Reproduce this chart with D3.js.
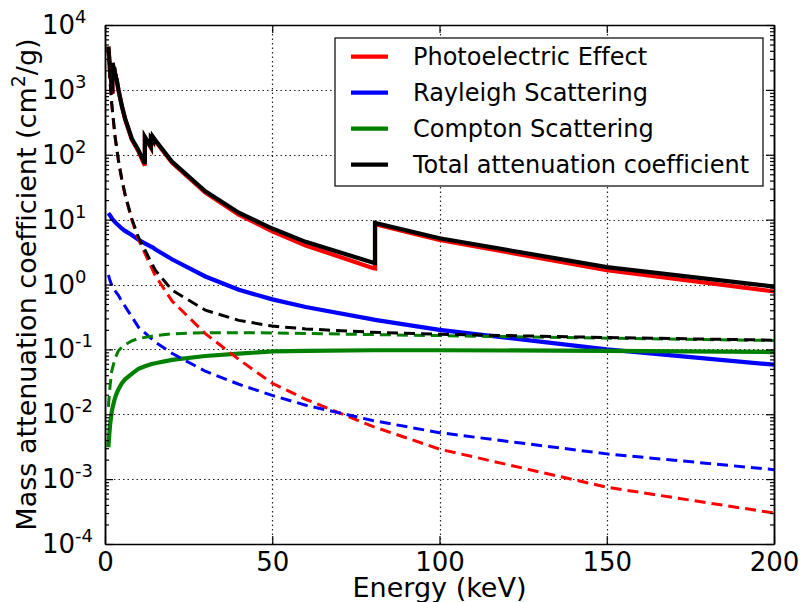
<!DOCTYPE html>
<html>
<head>
<meta charset="utf-8">
<script src="https://cdn.jsdelivr.net/npm/d3@7"></script>
<style>
body { margin: 0; background: #fff; }
text { font-family: "DejaVu Sans", sans-serif; font-variant-ligatures: none; fill: #000; }
</style>
</head>
<body>
<svg id="chart" width="802" height="602"></svg>
<script>
// gold (solid lines), edges repeated as below/above pairs
const energyAu = [1, 1.5, 2, 2.2057, 2.2057, 2.2911, 2.2911, 2.743, 2.743, 3, 3.1478, 3.1478, 3.4249, 3.4249,
    4, 5, 6, 8, 10, 11.9187, 11.9187, 13.7336, 13.7336, 14.3528, 14.3528, 15, 20, 30, 40, 50, 60, 80,
    80.7249, 80.7249, 100, 150, 200];
const photoAu = [4640, 2078, 1127, 870, 1890, 1740, 2590, 1890, 2190, 1790, 1590, 1740, 1400, 1490,
    1010, 570, 355, 172, 113, 68, 184, 128, 176, 160, 184, 165, 76, 26, 11.9, 6.6, 4.0, 1.80,
    1.77, 8.52, 4.87, 1.66, 0.78];
const rayleighAu = [12.6, 11.6, 10.6, 10.2, 10.2, 10.1, 10.1, 9.5, 9.5, 9.2, 9.0, 9.0, 8.7, 8.7,
    8.2, 7.3, 6.7, 5.8, 4.9, 4.3, 4.3, 3.85, 3.85, 3.7, 3.7, 3.5, 2.45, 1.33, 0.83, 0.59, 0.45, 0.29,
    0.285, 0.285, 0.2, 0.1, 0.058];
const comptonAu = [0.0031, 0.0068, 0.0108, 0.0122, 0.0122, 0.0128, 0.0128, 0.016, 0.016, 0.0178, 0.0188, 0.0188, 0.0206, 0.0206,
    0.0242, 0.0298, 0.0345, 0.042, 0.05, 0.055, 0.055, 0.059, 0.059, 0.060, 0.060, 0.061, 0.069, 0.079, 0.086, 0.093, 0.095, 0.097,
    0.097, 0.097, 0.097, 0.095, 0.091];
const totalAu = [4652.6, 2089.6, 1137.6, 880.2, 1900.2, 1750.1, 2600.1, 1899.5, 2199.5, 1799.2, 1599, 1749, 1408.7, 1498.7,
    1018.2, 577.3, 361.7, 177.8, 117.95, 72.4, 188.4, 131.9, 179.9, 163.8, 187.8, 168.6, 78.5, 27.4, 12.8, 7.28, 4.54, 2.187,
    2.152, 8.90, 5.167, 1.855, 0.929];

// water (dashed lines)
const energyW = [1, 1.5, 2, 3, 4, 5, 6, 8, 10, 15, 20, 30, 40, 50, 60, 80, 100, 150, 200];
const photoW = [4076, 1375, 616, 192, 82, 41.9, 24.0, 9.9, 4.95, 1.38, 0.56, 0.175, 0.07, 0.03, 0.017, 0.0065, 0.0029, 0.00075, 0.0003];
const rayleighW = [1.4, 1.15, 0.98, 0.8, 0.68, 0.55, 0.46, 0.32, 0.22, 0.13, 0.087, 0.046, 0.029, 0.0195, 0.0138, 0.008, 0.0052, 0.00245, 0.0014];
const comptonW = [0.013, 0.027, 0.046, 0.073, 0.095, 0.108, 0.118, 0.135, 0.147, 0.163, 0.174, 0.181, 0.181, 0.179, 0.176, 0.169, 0.163, 0.149, 0.137];
const totalW = [4077.4, 1376.2, 617.0, 192.9, 82.78, 42.56, 24.58, 10.36, 5.32, 1.673, 0.821, 0.402, 0.28, 0.2285, 0.2068, 0.1835, 0.1711, 0.1522, 0.1387];

const legendLabels = ["Photoelectric Effect", "Rayleigh Scattering", "Compton Scattering", "Total attenuation coefficient"];
const colors = ["#ff0000", "#0000ff", "#008000", "#000000"];
const xTicks = [0, 50, 100, 150, 200];
const decades = [-4, -3, -2, -1, 0, 1, 2, 3, 4];

const pL = 105, pR = 774, pT = 25, pB = 544;

const x = d3.scaleLinear().domain([0, 200]).range([pL, pR]);
const y = d3.scaleLog().domain([1e-4, 1e4]).range([pB, pT]);

const svg = d3.select("#chart");

svg.append("defs").append("clipPath").attr("id", "plotclip")
    .append("rect").attr("x", pL).attr("y", pT).attr("width", pR - pL).attr("height", pB - pT);

// dotted grid
const grid = svg.append("g").attr("stroke", "#222").attr("stroke-width", 1.2).attr("stroke-dasharray", "1.5,3");
grid.selectAll("line.gx").data(xTicks.slice(1, -1)).enter().append("line")
    .attr("x1", d => Math.round(x(d)) + 0.5).attr("x2", d => Math.round(x(d)) + 0.5).attr("y1", pT).attr("y2", pB);
grid.selectAll("line.gy").data(decades.slice(1, -1)).enter().append("line")
    .attr("y1", d => Math.round(y(Math.pow(10, d))) + 0.5).attr("y2", d => Math.round(y(Math.pow(10, d))) + 0.5)
    .attr("x1", pL).attr("x2", pR);

// curves
const line = d3.line().x(d => x(d[0])).y(d => y(d[1]));
const plot = svg.append("g").attr("clip-path", "url(#plotclip)").attr("fill", "none");

const solidSets = [photoAu, rayleighAu, comptonAu, totalAu];
const dashedSets = [photoW, rayleighW, comptonW, totalW];

solidSets.forEach(function(vals, i) {
    plot.append("path")
        .attr("d", line(energyAu.map((e, j) => [e, vals[j]])))
        .attr("stroke", colors[i])
        .attr("stroke-width", 4.2)
        .attr("stroke-linejoin", "miter");
});
dashedSets.forEach(function(vals, i) {
    plot.append("path")
        .attr("d", line(energyW.map((e, j) => [e, vals[j]])))
        .attr("stroke", colors[i])
        .attr("stroke-width", 3)
        .attr("stroke-dasharray", "11,6");
});

// minor ticks for log axis
const minor = [];
decades.slice(0, -1).forEach(function(p) {
    for (let k = 2; k <= 9; k++) minor.push(k * Math.pow(10, p));
});
const majors = decades.map(p => Math.pow(10, p));

function axisStyle(g) {
    g.select(".domain").attr("stroke", "#000").attr("stroke-width", 1.5);
    g.selectAll(".tick line").attr("stroke", "#000").attr("stroke-width", 1.2);
}

svg.append("g").attr("transform", `translate(0,${pB})`)
    .call(d3.axisBottom(x).tickValues(xTicks).tickSize(-8).tickSizeOuter(0).tickPadding(9).tickFormat(d3.format("d")))
    .call(axisStyle)
    .call(g => g.selectAll(".tick text").attr("font-size", 26).attr("font-family", "DejaVu Sans"));

svg.append("g").attr("transform", `translate(0,${pT})`)
    .call(d3.axisTop(x).tickValues(xTicks).tickSize(-8).tickSizeOuter(0).tickFormat(""))
    .call(axisStyle);

svg.append("g").attr("transform", `translate(${pL},0)`)
    .call(d3.axisLeft(y).tickValues(majors).tickSize(-8).tickSizeOuter(0).tickFormat(""))
    .call(axisStyle);
svg.append("g").attr("transform", `translate(${pL},0)`)
    .call(d3.axisLeft(y).tickValues(minor).tickSize(-4).tickSizeOuter(0).tickFormat(""))
    .call(axisStyle);
svg.append("g").attr("transform", `translate(${pR},0)`)
    .call(d3.axisRight(y).tickValues(majors).tickSize(-8).tickSizeOuter(0).tickFormat(""))
    .call(axisStyle);
svg.append("g").attr("transform", `translate(${pR},0)`)
    .call(d3.axisRight(y).tickValues(minor).tickSize(-4).tickSizeOuter(0).tickFormat(""))
    .call(axisStyle);

// y tick labels 10^n
const ylab = svg.append("g").selectAll("text").data(decades).enter().append("text")
    .attr("x", 42)
    .attr("y", d => y(Math.pow(10, d)) + 9)
    .attr("font-size", 26);
ylab.append("tspan").text("10");
ylab.append("tspan").attr("font-size", 18).attr("dy", -11).text(d => d < 0 ? "-" + (-d) : d);

// axis labels
svg.append("text")
    .attr("x", (pL + pR) / 2).attr("y", 597)
    .attr("text-anchor", "middle").attr("font-size", 27)
    .text("Energy (keV)");

const yl = svg.append("text")
    .attr("transform", `translate(36,${(pT + pB) / 2}) rotate(-90)`)
    .attr("text-anchor", "middle").attr("font-size", 27);
yl.append("tspan").text("Mass attenuation coefficient (cm");
yl.append("tspan").attr("font-size", 19).attr("dy", -11).text("2");
yl.append("tspan").attr("dy", 11).text("/g)");

// legend
const legend = svg.append("g");
legend.append("rect")
    .attr("x", 335).attr("y", 38).attr("width", 428).attr("height", 148)
    .attr("fill", "#fff").attr("stroke", "#000").attr("stroke-width", 1.2);

const items = legend.selectAll("g.legend").data(legendLabels).enter().append("g").attr("class", "legend");
items.append("line")
    .attr("x1", 351).attr("x2", 388)
    .attr("y1", (d, i) => 56.7 + i * 36).attr("y2", (d, i) => 56.7 + i * 36)
    .attr("stroke", (d, i) => colors[i]).attr("stroke-width", 4.2);
items.append("text")
    .attr("x", 413).attr("y", (d, i) => 56.7 + i * 36 + 8.5)
    .attr("font-size", 24)
    .text(d => d);
</script>
</body>
</html>
